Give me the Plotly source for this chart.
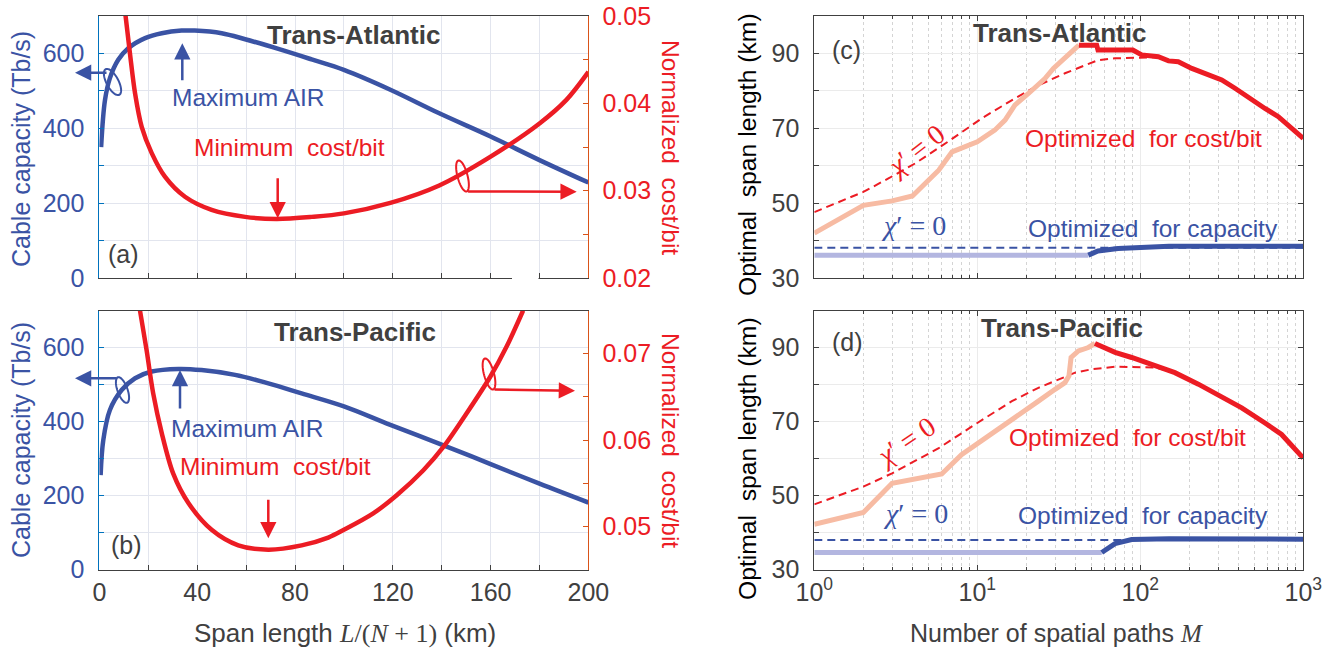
import math
import plotly.graph_objects as go

W, H = 1337, 648

# ---------------- data ----------------
# (a) Trans-Atlantic: span length vs cable capacity and normalized cost/bit
ta_span_cap = [0.7, 2.3, 4.3, 7.7, 11.8, 18.7, 25.5, 33.6, 39, 50, 59.6, 73.2, 86.8, 100, 119, 139, 160, 180, 200]
ta_cap = [350, 476, 534, 583, 614, 641, 654, 661, 661, 654, 638, 612, 584, 556, 503, 440, 378, 315, 255]
ta_span_cost = [10.5, 12.5, 14.6, 17.3, 21.4, 26.8, 35, 45.9, 59.6, 72.5, 86.8, 100, 119, 139, 160, 180, 191, 200]
ta_cost = [0.0505, 0.0457, 0.0411, 0.0373, 0.0343, 0.0316, 0.0293, 0.0278, 0.0270, 0.02676, 0.0270,
           0.0274, 0.0286, 0.0306, 0.0339, 0.0377, 0.0404, 0.0436]

# (b) Trans-Pacific
tp_span_cap = [0.5, 1.6, 4.3, 9.1, 14.6, 21.4, 32.3, 41.8, 55.5, 69.1, 82.7, 100, 119, 141, 160, 180, 200]
tp_cap = [255, 350, 431, 485, 517, 535, 542, 539, 526, 503, 476, 441, 391, 335, 285, 232, 181]
tp_span_cost = [16.6, 19.3, 22, 25.5, 30.2, 36.4, 45.9, 56.8, 69.1, 82.7, 93.6, 100, 112, 121.6, 132.5,
                140.7, 150.2, 159.8, 166.5, 173.3]
tp_cost = [0.075, 0.0704, 0.0654, 0.0608, 0.0561, 0.0527, 0.0496, 0.0478, 0.0473, 0.0478, 0.0487, 0.0496,
           0.0515, 0.0536, 0.0565, 0.0592, 0.0631, 0.0673, 0.0708, 0.075]

# (c) Trans-Atlantic optimal span length vs number of spatial paths M
c_cost_lo_M = [1, 2, 3, 4, 5.8, 7, 10, 12.8, 14.8, 17, 20.6, 26, 29.3, 34.5, 38, 42]
c_cost_lo = [42.0, 49.4, 50.6, 51.9, 58.8, 63.7, 66.4, 69.5, 72.2, 76.2, 79.3, 83.3, 86.0, 89.1, 90.5, 92.2]
c_cost_hi_M = [42, 54, 55, 90, 102, 129, 149, 171, 207, 261, 316, 381, 460, 582, 703, 849, 1000]
c_cost_hi = [92.2, 92.2, 90.9, 90.9, 89.6, 89.1, 88.0, 87.8, 86.0, 84.2, 82.9, 80.7, 78.2, 75.3, 73.1, 70.0, 67.3]
c_cost_chi0_M = [1, 2, 2.85, 4.15, 6.6, 10.6, 17, 23.7, 34.5, 43.7, 55, 70, 102, 130]
c_cost_chi0 = [47.6, 53.0, 56.6, 60.6, 66.4, 72.6, 78.0, 81.5, 84.7, 86.4, 88.2, 88.7, 88.9, 89.0]
c_cap_chi0_M = [1, 1000]
c_cap_chi0 = [38.1, 38.1]
c_cap_lo_M = [1, 48]
c_cap_lo = [36.1, 36.1]
c_cap_hi_M = [48, 55, 73, 102, 150, 1000]
c_cap_hi = [36.1, 37.2, 37.9, 38.3, 38.5, 38.5]

# (d) Trans-Pacific
d_cost_lo_M = [1, 2, 3, 6.05, 8, 10, 12.2, 14.8, 19.6, 23.7, 30, 34.5, 36.5, 37.6, 41.7, 48, 52.7]
d_cost_lo = [42.2, 45.4, 53.3, 55.8, 61.0, 63.9, 66.5, 69.2, 72.8, 75.5, 78.7, 80.5, 82.3, 87.3, 89.1, 90.0, 91.1]
d_cost_hi_M = [52.7, 70, 88.5, 123, 163, 227, 301, 419, 582, 736, 1000]
d_cost_hi = [91.1, 88.7, 87.3, 85.0, 83.2, 80.1, 77.3, 73.7, 69.6, 66.5, 60.1]
d_cost_chi0_M = [1, 2, 3, 5.8, 10, 16.3, 23.7, 34.5, 39.8, 50, 70, 123, 140]
d_cost_chi0 = [47.6, 52.4, 56.0, 62.8, 69.6, 75.5, 79.1, 82.1, 83.2, 84.1, 84.8, 84.6, 84.0]
d_cap_chi0_M = [1, 1000]
d_cap_chi0 = [38.0, 38.0]
d_cap_lo_M = [1, 58]
d_cap_lo = [34.6, 34.6]
d_cap_hi_M = [58, 70, 88.5, 150, 1000]
d_cap_hi = [34.6, 37.0, 38.1, 38.3, 38.2]

span_ticks = list(range(0, 201, 20))
span_ticktext = [str(v) if v % 40 == 0 else "" for v in span_ticks]
cap_ticks = list(range(0, 701, 100))
cap_ticktext = [str(v) if v % 200 == 0 else "" for v in cap_ticks]
cost_a_ticks = [0.02, 0.025, 0.03, 0.035, 0.04, 0.045, 0.05]
cost_a_text = ["0.02", "", "0.03", "", "0.04", "", "0.05"]
cost_b_ticks = [0.045, 0.05, 0.055, 0.06, 0.065, 0.07, 0.075]
cost_b_text = ["", "0.05", "", "0.06", "", "0.07", ""]
opt_ticks = list(range(30, 101, 10))
opt_ticktext = [str(v) if v in (30, 50, 70, 90) else "" for v in opt_ticks]
M_ticks = [1, 10, 100, 1000]
M_ticktext = ["10<sup>0</sup>", "10<sup>1</sup>", "10<sup>2</sup>", "10<sup>3</sup>"]
M_minor = [k * 10 ** e for e in range(3) for k in range(2, 10)]

# ---------------- style ----------------
BLUE = "#3A53A4"
RED = "#EC1C24"
SALMON = "#F7BBA3"
LAV = "#B3B6E0"
GRAY = "#404040"
AXBLUE = "#0072BD"
AXORANGE = "#D95319"
GRIDAB = "#E2E5EE"
GRIDCD = "#EBEBEB"
FONT = "Liberation Sans, Arial, sans-serif"
TICK = 25
TXT = 24.5


def px(x):
    return x / W


def py(y):
    return 1 - y / H


XD_L = [px(99.4), px(588.4)]
XD_R = [px(814.3), px(1303.3)]
YD_T = [py(278), py(16)]
YD_B = [py(569.5), py(310.5)]

fig = go.Figure()

# (a)
fig.add_trace(go.Scatter(x=ta_span_cap, y=ta_cap, mode="lines", line=dict(color=BLUE, width=4.5, shape="spline", smoothing=1.0),
                         xaxis="x", yaxis="y", showlegend=False))
fig.add_trace(go.Scatter(x=ta_span_cost, y=ta_cost, mode="lines", line=dict(color=RED, width=4.5, shape="spline", smoothing=0.9),
                         xaxis="x", yaxis="y2", showlegend=False))
# (b)
fig.add_trace(go.Scatter(x=tp_span_cap, y=tp_cap, mode="lines", line=dict(color=BLUE, width=4.5, shape="spline", smoothing=1.0),
                         xaxis="x2", yaxis="y3", showlegend=False))
fig.add_trace(go.Scatter(x=tp_span_cost, y=tp_cost, mode="lines", line=dict(color=RED, width=4.5, shape="spline", smoothing=0.9),
                         xaxis="x2", yaxis="y4", showlegend=False))

# (c) and (d)
for xa, ya, d in [("x3", "y5", dict(clo=(c_cost_lo_M, c_cost_lo), chi=(c_cost_hi_M, c_cost_hi), cch=(c_cost_chi0_M, c_cost_chi0),
                                    kch=(c_cap_chi0_M, c_cap_chi0), klo=(c_cap_lo_M, c_cap_lo), khi=(c_cap_hi_M, c_cap_hi))),
                  ("x4", "y6", dict(clo=(d_cost_lo_M, d_cost_lo), chi=(d_cost_hi_M, d_cost_hi), cch=(d_cost_chi0_M, d_cost_chi0),
                                    kch=(d_cap_chi0_M, d_cap_chi0), klo=(d_cap_lo_M, d_cap_lo), khi=(d_cap_hi_M, d_cap_hi)))]:
    fig.add_trace(go.Scatter(x=d["kch"][0], y=d["kch"][1], mode="lines", line=dict(color=BLUE, width=2, dash="8px,5px"),
                             xaxis=xa, yaxis=ya, showlegend=False))
    fig.add_trace(go.Scatter(x=d["klo"][0], y=d["klo"][1], mode="lines", line=dict(color=LAV, width=5),
                             xaxis=xa, yaxis=ya, showlegend=False))
    fig.add_trace(go.Scatter(x=d["khi"][0], y=d["khi"][1], mode="lines", line=dict(color=BLUE, width=5),
                             xaxis=xa, yaxis=ya, showlegend=False))
    fig.add_trace(go.Scatter(x=d["cch"][0], y=d["cch"][1], mode="lines", line=dict(color=RED, width=2, dash="8px,5px"),
                             xaxis=xa, yaxis=ya, showlegend=False))
    fig.add_trace(go.Scatter(x=d["clo"][0], y=d["clo"][1], mode="lines", line=dict(color=SALMON, width=5),
                             xaxis=xa, yaxis=ya, showlegend=False))
    fig.add_trace(go.Scatter(x=d["chi"][0], y=d["chi"][1], mode="lines", line=dict(color=RED, width=5),
                             xaxis=xa, yaxis=ya, showlegend=False))


def span_xaxis(domain, anchor, labels):
    return dict(domain=domain, anchor=anchor, range=[0, 200], tickmode="array", tickvals=span_ticks,
                ticktext=span_ticktext, showticklabels=labels, ticks="inside", ticklen=5, tickcolor=GRAY,
                showline=True, linecolor=GRAY, linewidth=1, mirror=True, showgrid=True, gridcolor=GRIDAB,
                gridwidth=1, zeroline=False, tickfont=dict(family=FONT, size=TICK, color=GRAY),
                ticklabelstandoff=0, automargin=False)


def cap_yaxis(domain, anchor):
    return dict(domain=domain, anchor=anchor, range=[0, 700], tickmode="array", tickvals=cap_ticks,
                ticktext=cap_ticktext, ticks="inside", ticklen=5, tickcolor=AXBLUE, showline=True,
                linecolor=AXBLUE, linewidth=1, showgrid=True, gridcolor=GRIDAB, zeroline=False,
                tickfont=dict(family=FONT, size=TICK, color=BLUE), ticklabelstandoff=9, automargin=False)


def cost_yaxis(overlay, anchor, rng, tv, tt):
    return dict(overlaying=overlay, anchor=anchor, side="right", range=rng, tickmode="array", tickvals=tv,
                ticktext=tt, ticks="inside", ticklen=5, tickcolor=AXORANGE, showline=True, linecolor=AXORANGE,
                linewidth=1, showgrid=False, zeroline=False, tickfont=dict(family=FONT, size=TICK, color=RED),
                ticklabelstandoff=8, automargin=False)


def m_xaxis(domain, anchor, labels):
    return dict(domain=domain, anchor=anchor, type="log", range=[0, 3], tickmode="array", tickvals=M_ticks,
                ticktext=M_ticktext, showticklabels=labels, ticks="inside", ticklen=5, tickcolor=GRAY,
                showline=True, linecolor=GRAY, linewidth=1, mirror="ticks", showgrid=True, gridcolor=GRIDCD,
                zeroline=False, tickfont=dict(family=FONT, size=TICK, color=GRAY), ticklabelstandoff=0,
                automargin=False,
                minor=dict(tickmode="array", tickvals=M_minor, ticks="inside", ticklen=3, tickcolor=GRAY,
                           showgrid=True, gridcolor="#D4D4D4", griddash="dot", gridwidth=1))


def opt_yaxis(domain, anchor):
    return dict(domain=domain, anchor=anchor, range=[30, 100], tickmode="array", tickvals=opt_ticks,
                ticktext=opt_ticktext, ticks="inside", ticklen=5, tickcolor=GRAY, showline=True, linecolor=GRAY,
                linewidth=1, mirror="ticks", showgrid=True, gridcolor=GRIDCD, zeroline=False,
                tickfont=dict(family=FONT, size=TICK, color=GRAY), ticklabelstandoff=9, automargin=False)


fig.update_layout(
    width=W, height=H, margin=dict(l=0, r=0, t=0, b=0, autoexpand=False), paper_bgcolor="white",
    plot_bgcolor="white", showlegend=False,
    xaxis=span_xaxis(XD_L, "y", False),
    yaxis=cap_yaxis(YD_T, "x"),
    yaxis2=cost_yaxis("y", "x", [0.02, 0.05], cost_a_ticks, cost_a_text),
    xaxis2=span_xaxis(XD_L, "y3", True),
    yaxis3=cap_yaxis(YD_B, "x2"),
    yaxis4=cost_yaxis("y3", "x2", [0.045, 0.075], cost_b_ticks, cost_b_text),
    xaxis3=m_xaxis(XD_R, "y5", False),
    yaxis5=opt_yaxis(YD_T, "x3"),
    xaxis4=m_xaxis(XD_R, "y6", True),
    yaxis6=opt_yaxis(YD_B, "x4"),
)

ann = []


def text(x, y, s, color, size=TXT, bold=False, angle=0, family=FONT):
    ann.append(dict(x=px(x), y=py(y), xref="paper", yref="paper", text=("<b>%s</b>" % s) if bold else s,
                    showarrow=False, xanchor="center", yanchor="middle", textangle=angle,
                    font=dict(family=family, size=size, color=color)))


def arrow(hx, hy, tx, ty, color):
    ann.append(dict(x=px(hx), y=py(hy), xref="paper", yref="paper", ax=tx - hx, ay=ty - hy,
                    axref="pixel", ayref="pixel", text="", showarrow=True, arrowhead=2, arrowsize=1.3,
                    arrowwidth=2.5, arrowcolor=color, standoff=0, startstandoff=0))


chi = "<span style='font-family:Liberation Serif'><i>χ</i>′ = 0</span>"

# panel (a)
text(353, 35, "Trans-Atlantic", GRAY, 26, bold=True)
text(248, 97, "Maximum AIR", BLUE)
text(289, 147, "Minimum&#160; cost/bit", RED)
text(123, 254, "(a)", GRAY, 25)
arrow(182.3, 43.3, 182.3, 81.7, BLUE)
arrow(277.7, 218.3, 277.7, 176.7, RED)
arrow(75, 72.7, 108, 72.7, BLUE)
arrow(576.7, 191.7, 466.6, 191.5, RED)
# panel (b)
text(355, 332, "Trans-Pacific", GRAY, 26, bold=True)
text(246.5, 428, "Maximum AIR", BLUE)
text(275, 466, "Minimum&#160; cost/bit", RED)
text(126, 545, "(b)", GRAY, 25)
arrow(180, 370, 180, 410, BLUE)
arrow(268.3, 538.3, 268.3, 498.3, RED)
arrow(75, 378.3, 117.9, 378.3, BLUE)
arrow(575, 390.7, 493, 389.5, RED)
# panel (c)
text(847, 50, "(c)", GRAY, 25)
text(1059, 33, "Trans-Atlantic", GRAY, 26, bold=True)
text(915.7, 150.7, chi, RED, 28, angle=-38)
text(913, 225, chi, BLUE, 28)
text(1143, 139, "Optimized&#160; for cost/bit", RED)
text(1152.5, 228, "Optimized&#160; for capacity", BLUE)
# panel (d)
text(847.5, 342, "(d)", GRAY, 25)
text(1062, 328, "Trans-Pacific", GRAY, 26, bold=True)
text(905.7, 441.7, chi, RED, 28, angle=-34)
text(915, 513, chi, BLUE, 28)
text(1127.5, 437, "Optimized&#160; for cost/bit", RED)
text(1142.5, 515, "Optimized&#160; for capacity", BLUE)
# axis titles
text(21, 149, "Cable capacity (Tb/s)", BLUE, 25, angle=-90)
text(21, 440, "Cable capacity (Tb/s)", BLUE, 25, angle=-90)
text(671, 147, "Normalized&#160; cost/bit", RED, 24.5, angle=90)
text(671, 440, "Normalized&#160; cost/bit", RED, 24.5, angle=90)
text(345, 633, "Span length <span style='font-family:Liberation Serif'><i>L</i>/(<i>N</i> + 1)</span> (km)", GRAY, 26)
text(747, 155, "Optimal&#160; span length (km)", "#000000", 24.7, angle=-90)
text(747, 459, "Optimal&#160; span length (km)", "#000000", 24.7, angle=-90)
text(1056, 633, "Number of spatial paths <span style='font-family:Liberation Serif'><i>M</i></span>", GRAY, 25)

fig.update_layout(annotations=ann)


def ellipse(cx, cy, rx, ry, ang, color):
    a = math.radians(ang)
    vx, vy = -math.sin(a), -math.cos(a)
    ux, uy = math.cos(a), -math.sin(a)
    pts = []
    for i in range(49):
        t = 2 * math.pi * i / 48
        x = cx + rx * math.cos(t) * ux + ry * math.sin(t) * vx
        y = cy + rx * math.cos(t) * uy + ry * math.sin(t) * vy
        pts.append("%.5f,%.5f" % (px(x), py(y)))
    path = "M " + " L ".join(pts) + " Z"
    return dict(type="path", path=path, xref="paper", yref="paper", line=dict(color=color, width=2),
                fillcolor="rgba(0,0,0,0)", layer="above")


shapes = [
    ellipse(112.5, 82, 6, 14.5, 28, BLUE),
    ellipse(462.5, 176, 5, 16, 15, RED),
    ellipse(122.5, 390, 5, 13.5, 20, BLUE),
    ellipse(489, 374, 5, 16, 15, RED),
    dict(type="rect", xref="paper", yref="paper", x0=px(512), x1=px(538.5), y0=py(281), y1=py(276),
         fillcolor="white", line=dict(width=0), layer="above"),
]
fig.update_layout(shapes=shapes)

fig.write_html("out.html")
